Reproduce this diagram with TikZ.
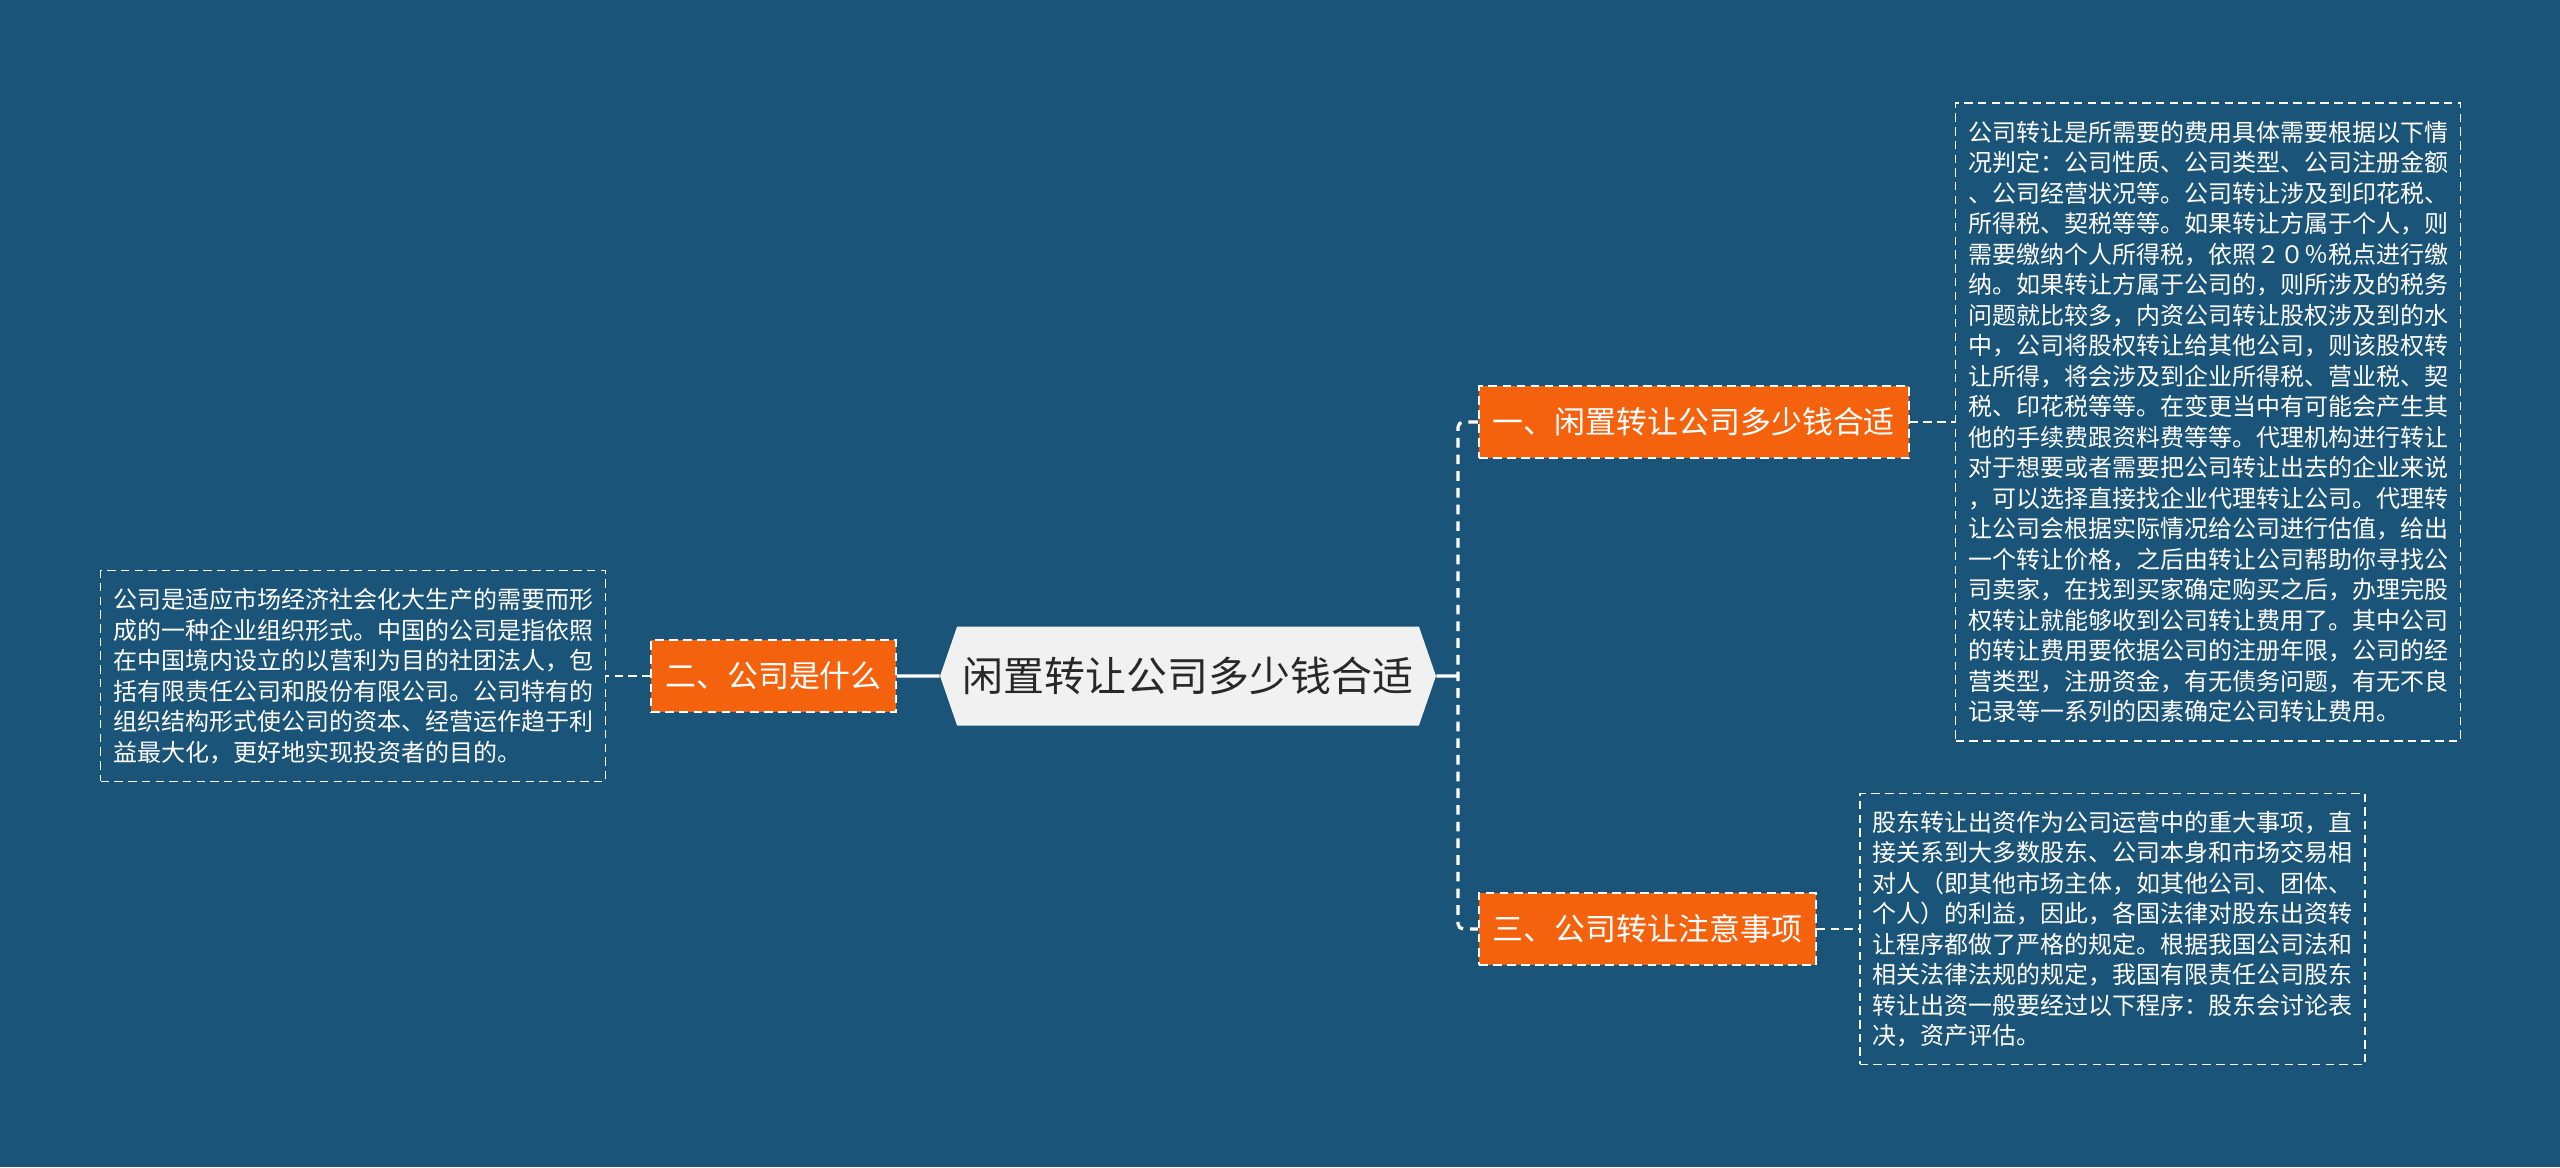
\documentclass[tikz,border=0pt]{standalone}
\usepackage{fontspec}
\setmainfont{Noto Sans CJK SC}
\usetikzlibrary{positioning, shapes.symbols}
\definecolor{bgblue}{RGB}{27,84,121}
\definecolor{topicgray}{RGB}{241,241,241}
\definecolor{topictext}{RGB}{40,40,40}
\definecolor{branchorange}{RGB}{244,98,14}

\begin{document}
\begin{tikzpicture}[
    x=0.02cm, y=-0.02cm,
    node distance=0.88cm,
    topic/.style={signal, signal to=west and east, signal pointer angle=142, fill=topicgray, text=topictext, minimum width=9.92cm, minimum height=1.98cm, inner sep=0pt, font=\fontsize{23.3pt}{28pt}\selectfont},
    branch/.style={rectangle, draw=white, line width=1pt, dash pattern=on 5pt off 3pt, fill=branchorange, text=white, minimum height=1.44cm, inner xsep=0.28cm, font=\fontsize{17.6pt}{21pt}\selectfont},
    note/.style={rectangle, draw=white, line width=0.9pt, dash pattern=on 4.8pt off 3pt, text=white, align=left, inner xsep=0.25cm, font=\fontsize{13.66pt}{17.36pt}\selectfont},
    link/.style={draw=white, line width=1.8pt},
    dlink/.style={draw=white, line width=1.8pt, dash pattern=on 5.5pt off 4pt},
    nlink/.style={draw=white, line width=1pt, dash pattern=on 4.8pt off 3pt}
  ]
    \fill[bgblue] (0,0) rectangle (2560,1167);
    \useasboundingbox (0,0) rectangle (2560,1167);

    \node[topic] (root) at (1188,676) {闲置转让公司多少钱合适};
    \node[branch, left=0.86cm of root] (what) {二、公司是什么};
    \node[branch, anchor=west] (cost) at (1478,422) {一、闲置转让公司多少钱合适};
    \node[branch, anchor=west] (care) at (1478,929) {三、公司转让注意事项};

    \node[note, left=0.88cm of what, minimum height=4.22cm] (whatnote) {公司是适应市场经济社会化大生产的需要而形\\成的一种企业组织形式。中国的公司是指依照\\在中国境内设立的以营利为目的社团法人，包\\括有限责任公司和股份有限公司。公司特有的\\组织结构形式使公司的资本、经营运作趋于利\\益最大化，更好地实现投资者的目的。};
    \node[note, right=0.9cm of cost, minimum height=12.76cm] (costnote) {公司转让是所需要的费用具体需要根据以下情\\况判定：公司性质、公司类型、公司注册金额\\、公司经营状况等。公司转让涉及到印花税、\\所得税、契税等等。如果转让方属于个人，则\\需要缴纳个人所得税，依照２０％税点进行缴\\纳。如果转让方属于公司的，则所涉及的税务\\问题就比较多，内资公司转让股权涉及到的水\\中，公司将股权转让给其他公司，则该股权转\\让所得，将会涉及到企业所得税、营业税、契\\税、印花税等等。在变更当中有可能会产生其\\他的手续费跟资料费等等。代理机构进行转让\\对于想要或者需要把公司转让出去的企业来说\\，可以选择直接找企业代理转让公司。代理转\\让公司会根据实际情况给公司进行估值，给出\\一个转让价格，之后由转让公司帮助你寻找公\\司卖家，在找到买家确定购买之后，办理完股\\权转让就能够收到公司转让费用了。其中公司\\的转让费用要依据公司的注册年限，公司的经\\营类型，注册资金，有无债务问题，有无不良\\记录等一系列的因素确定公司转让费用。};
    \node[note, right=0.84cm of care, minimum height=5.42cm] (carenote) {股东转让出资作为公司运营中的重大事项，直\\接关系到大多数股东、公司本身和市场交易相\\对人（即其他市场主体，如其他公司、团体、\\个人）的利益，因此，各国法律对股东出资转\\让程序都做了严格的规定。根据我国公司法和\\相关法律法规的规定，我国有限责任公司股东\\转让出资一般要经过以下程序：股东会讨论表\\决，资产评估。};

    \coordinate (fork) at (1458,676);
    \draw[link] (root) -- (what);
    \draw[link] (root) -- (fork);
    \draw[dlink, rounded corners=3pt] (cost.west) -| (fork) |- (care.west);
    \draw[nlink] (what) -- (whatnote);
    \draw[nlink] (cost) -- (costnote);
    \draw[nlink] (care) -- (carenote);
\end{tikzpicture}
\end{document}
